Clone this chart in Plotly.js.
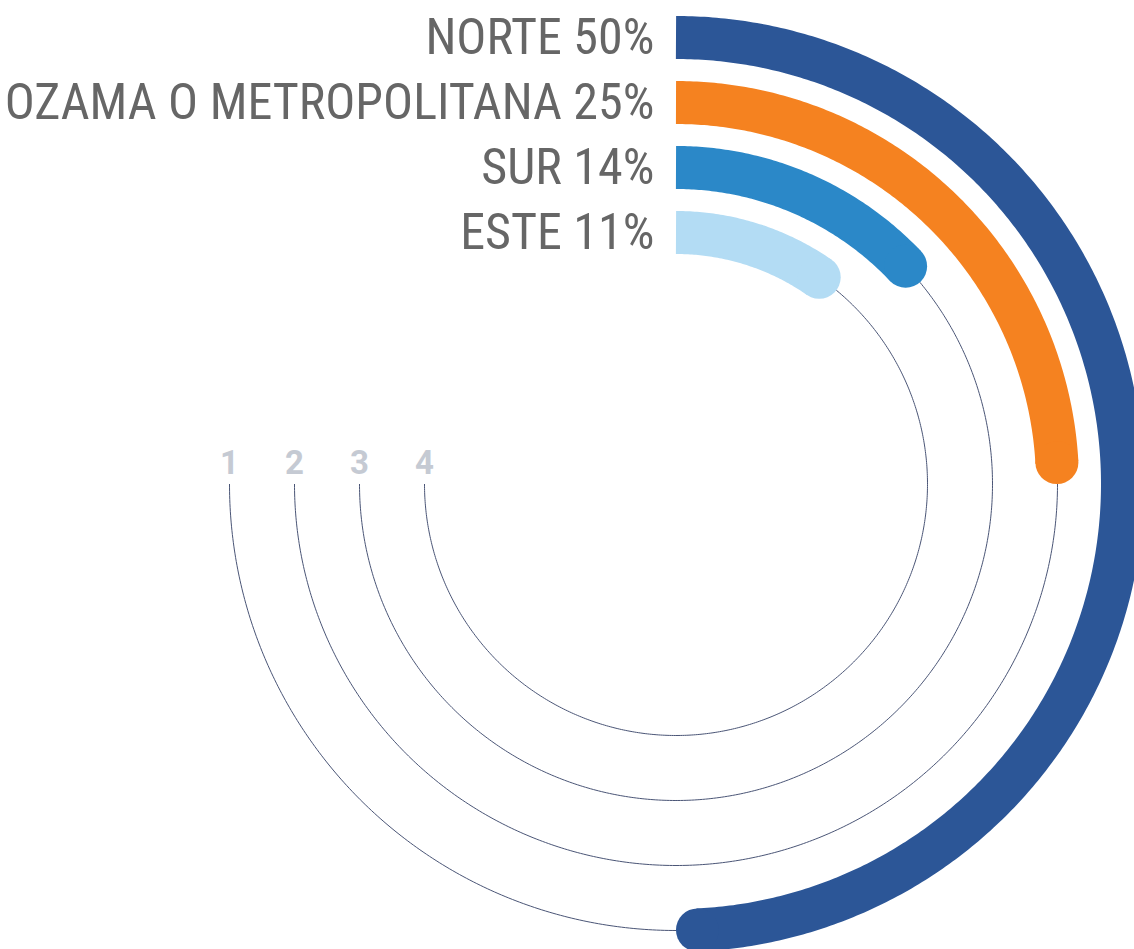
<!DOCTYPE html>
<html>
<head>
<meta charset="utf-8">
<script src="https://cdn.plot.ly/plotly-3.0.1.min.js"></script>
<style>
  html, body { margin: 0; padding: 0; background: #ffffff; }
  #chart { width: 1134px; height: 949px; }
</style>
</head>
<body>
<div id="chart"></div>
<script>
// ---- data ----
const regions = ['NORTE', 'OZAMA O METROPOLITANA', 'SUR', 'ESTE'];
const shares = [50, 25, 14, 11];           // percent
const trackLabels = ['1', '2', '3', '4'];
const barColors = ['#2C5697', '#F58220', '#2B88C8', '#B3DCF4'];

// ---- geometry / style ----
const W = 1134, H = 949;
const CX = 676, CY = 484;          // centre of the rings (px)
const POLAR_R = 456;               // radius of polar subplot (px) == radial range max
const OUTER = 446.5, GAP = 65;     // ring radii
const BAR_W = 43;
const TRACK_END = 270;             // degrees, where thin tracks end
const labelFont = '"Liberation Sans Narrow", "Roboto Condensed", "Arial Narrow", "DejaVu Sans Condensed", sans-serif';

function arc(r, t0, t1, step) {
  const th = [], rr = [];
  const n = Math.max(2, Math.ceil(Math.abs(t1 - t0) / step) + 1);
  for (let i = 0; i < n; i++) {
    th.push(t0 + (t1 - t0) * i / (n - 1));
    rr.push(r);
  }
  return { r: rr, theta: th };
}

const traces = [];
regions.forEach((name, i) => {
  const r = OUTER - i * GAP;
  const endDeg = shares[i] * 3.6;
  const tr = arc(r, endDeg, TRACK_END, 0.5);
  traces.push({
    type: 'scatterpolar', mode: 'lines', r: tr.r, theta: tr.theta,
    line: { color: '#4A5576', width: 1 }, hoverinfo: 'skip', cliponaxis: false, showlegend: false
  });
});
regions.forEach((name, i) => {
  const r = OUTER - i * GAP;
  const endDeg = shares[i] * 3.6;
  const capDeg = Math.atan((BAR_W / 2) / r) * 180 / Math.PI;
  const b = arc(r, 0, endDeg - capDeg, 0.5);
  traces.push({
    type: 'scatterpolar', mode: 'lines', r: b.r, theta: b.theta,
    line: { color: barColors[i], width: BAR_W }, hoverinfo: 'skip', cliponaxis: false, showlegend: false
  });
  // rounded end cap
  traces.push({
    type: 'scatterpolar', mode: 'markers', r: [r], theta: [endDeg - capDeg],
    marker: { color: barColors[i], size: BAR_W, line: { width: 0 } },
    hoverinfo: 'skip', cliponaxis: false, showlegend: false
  });
});
// region labels
traces.push({
  type: 'scatterpolar', mode: 'markers+text',
  r: regions.map((_, i) => OUTER - i * GAP - 4),
  theta: regions.map(() => 0),
  text: regions.map((n, i) => n + ' ' + shares[i] + '%'),
  textposition: 'middle left',
  textfont: { family: labelFont, size: 50, color: '#666666' },
  marker: { size: 33, opacity: 0 },
  hoverinfo: 'skip', cliponaxis: false, showlegend: false
});
// track number labels
traces.push({
  type: 'scatterpolar', mode: 'markers+text',
  r: trackLabels.map((_, i) => OUTER - i * GAP),
  theta: trackLabels.map(() => TRACK_END),
  text: trackLabels,
  textposition: 'top center',
  textfont: { family: 'Roboto, "Liberation Sans", Arial, sans-serif', size: 33, color: '#C5CAD3', weight: 'bold' },
  marker: { size: 2, opacity: 0 },
  hoverinfo: 'skip', cliponaxis: false, showlegend: false
});

const layout = {
  width: W, height: H,
  margin: { l: 0, r: 0, t: 0, b: 0, pad: 0 },
  paper_bgcolor: '#ffffff',
  showlegend: false,
  polar: {
    domain: {
      x: [(CX - POLAR_R) / W, (CX + POLAR_R) / W],
      y: [(H - CY - POLAR_R) / H, (H - CY + POLAR_R) / H]
    },
    bgcolor: 'rgba(0,0,0,0)',
    radialaxis: { range: [0, POLAR_R], visible: false, showgrid: false, showline: false, ticks: '' },
    angularaxis: { rotation: 90, direction: 'clockwise', visible: false, showgrid: false, showline: false, ticks: '' }
  }
};

Plotly.newPlot('chart', traces, layout, { displayModeBar: false, staticPlot: true }).then(() => {
  // let the thick outer ring run to the page edge instead of stopping at the polar circle
  document.querySelectorAll('#chart .polarlayer [clip-path]').forEach(el => el.removeAttribute('clip-path'));
});
</script>
</body>
</html>
